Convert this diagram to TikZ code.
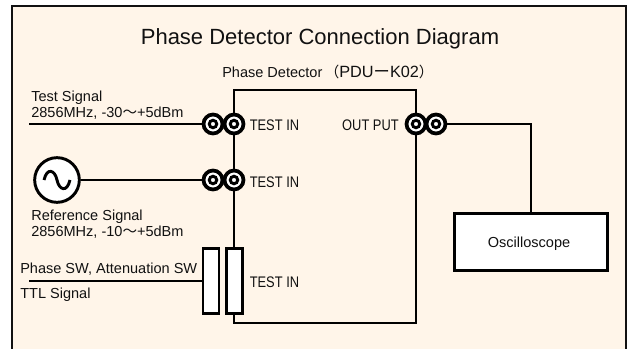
\documentclass[tikz,border=0pt]{standalone}
\usepackage{graphicx}
\usepackage{fontspec}
\setmainfont{Liberation Sans}
\newfontfamily\cjk{Noto Sans CJK JP}
\definecolor{paper}{HTML}{FFF5E9}
\definecolor{ink}{HTML}{111111}
\newcommand{\narrowtag}[1]{\scalebox{0.84}[1]{#1}}
\tikzset{
  wire/.style={draw=black,line width=2.2pt},
  jackouter/.style={circle,draw=black,line width=2.8pt,fill=white,minimum size=14.2pt,inner sep=0pt},
  jackinner/.style={circle,draw=black,line width=2.2pt,fill=white,minimum size=5.6pt,inner sep=0pt},
  label/.style={inner sep=0pt,anchor=base west,font=\fontsize{10.9pt}{12pt}\selectfont,text=ink},
  tag/.style={inner sep=0pt,anchor=base west,font=\fontsize{11.5pt}{12pt}\selectfont,text=ink},
  boxed/.style={draw=black,line width=2.2pt,fill=white,inner sep=0pt}
}
\begin{document}
\begin{tikzpicture}[x=0.75pt,y=-0.75pt]
\useasboundingbox (0,0) rectangle (633,349);
\fill[white] (0,0) rectangle (633,349);
\draw[fill=paper,draw=ink,line width=0.9pt] (12,6) rectangle (626,360);
\node[inner sep=0pt,anchor=base,text=ink,font=\fontsize{16.5pt}{18pt}\selectfont] (title) at (320,45) {Phase Detector Connection Diagram};
\node[label] (pdlabel) at (222,78) {Phase Detector\,{\cjk（}{\fontsize{12.2pt}{12pt}\selectfont PDU{\cjk ー}K02}{\cjk ）}};

\node[draw=black,line width=2.2pt,minimum width=136.5pt,minimum height=174.75pt,inner sep=0pt] (pd) at (325,206.5) {};

\coordinate (testfree) at (29,124);
\coordinate (ttlfree) at (29,281);

% jacks
\node[jackouter] (j1a) at (213,124) {};
\node[jackouter] (j1b) at (234,124) {};
\node[jackouter] (j2a) at (213,180) {};
\node[jackouter] (j2b) at (234,180) {};
\node[jackouter] (j3a) at (416,124) {};
\node[jackouter] (j3b) at (436,124) {};
\foreach \n in {j1a,j1b,j2a,j2b,j3a,j3b}{\node[jackinner] at (\n) {};}

% source
\node[circle,draw=black,line width=2.2pt,fill=white,minimum size=33.5pt,inner sep=0pt] (src) at (57,180) {};
\draw[line width=2.2pt] (44,180) .. controls (47,167) and (55,170) .. (57,180) .. controls (59,190) and (67,193) .. (70,180);

% multi-pin connector
\node[boxed,minimum width=12pt,minimum height=49pt] (m1) at (211,281) {};
\node[boxed,minimum width=12pt,minimum height=49pt] (m2) at (234.5,281) {};

% oscilloscope
\node[boxed,minimum width=114.5pt,minimum height=42.5pt] (osc) at (531,242) {};
\node[label,anchor=base] (osclabel) at (529,248) {Oscilloscope};

% connectors
\draw[wire] (testfree) -- (j1a.west);
\draw[wire] (src.east) -- (j2a.west);
\draw[wire] (ttlfree) -- (m1.west);
\draw[wire] (j3b.east) -| (osc.north);

% labels
\node[label] (l1) at (31,102) {Test Signal};
\node[label] (l2) at (31,118) {2856MHz, -30{\cjk ～}+5dBm};
\node[label] (l3) at (31,220.5) {Reference Signal};
\node[label] (l4) at (31,236.5) {2856MHz, -10{\cjk ～}+5dBm};
\node[label] (l5) at (20,273.5) {Phase SW, Attenuation SW};
\node[label] (l6) at (20,298.5) {TTL Signal};
\node[tag] (t1) at (249.5,131) {\narrowtag{TEST IN}};
\node[tag] (t2) at (249.5,187.5) {\narrowtag{TEST IN}};
\node[tag] (t3) at (249.5,288) {\narrowtag{TEST IN}};
\node[tag,anchor=base east] (t4) at (399,131) {\narrowtag{OUT PUT}};
\end{tikzpicture}
\end{document}
